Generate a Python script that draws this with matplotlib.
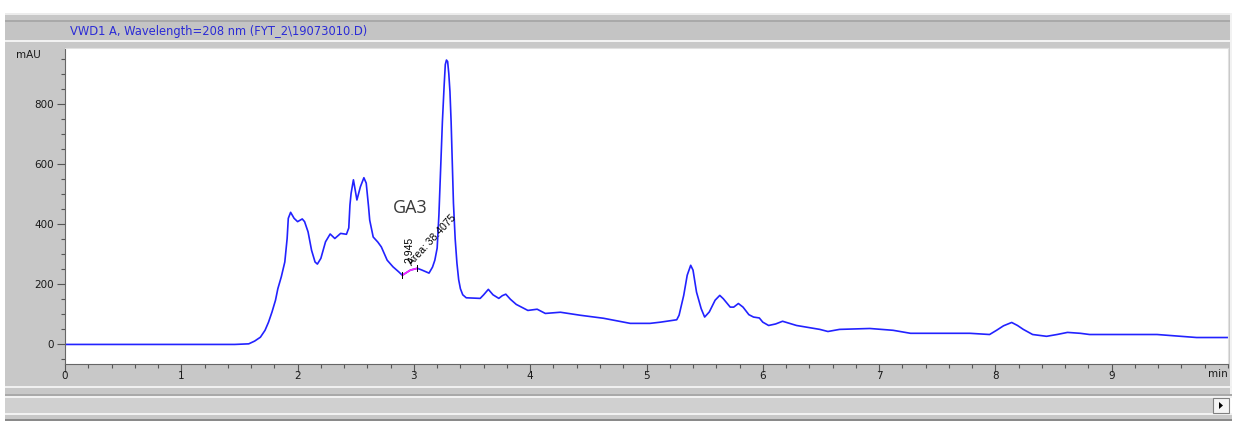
import matplotlib.pyplot as plt
from matplotlib.patches import Rectangle, Polygon
from matplotlib.ticker import MultipleLocator

# retention time (min) and detector signal (mAU)
time_min = [0.00, 1.46, 1.58, 1.63, 1.68, 1.72, 1.75, 1.78, 1.81, 1.83, 1.86, 1.89,
            1.91, 1.92, 1.94, 1.97, 2.00, 2.04, 2.06, 2.09, 2.12, 2.15, 2.17, 2.20,
            2.24, 2.28, 2.32, 2.37, 2.42, 2.44, 2.45, 2.46, 2.48, 2.51, 2.54, 2.57,
            2.59, 2.61, 2.62, 2.65, 2.69, 2.72, 2.77, 2.82, 2.87, 2.90, 2.97, 3.03,
            3.07, 3.13, 3.16, 3.18, 3.20, 3.215, 3.23, 3.245, 3.26, 3.27, 3.28, 3.29,
            3.30, 3.31, 3.32, 3.33, 3.34, 3.355, 3.37, 3.385, 3.40, 3.42, 3.45, 3.57,
            3.60, 3.64, 3.68, 3.73, 3.76, 3.79, 3.83, 3.88, 3.98, 4.06, 4.13, 4.26,
            4.43, 4.63, 4.86, 5.03, 5.12, 5.26, 5.28, 5.32, 5.35, 5.38, 5.40, 5.43,
            5.47, 5.50, 5.54, 5.59, 5.63, 5.66, 5.72, 5.75, 5.79, 5.83, 5.88, 5.92,
            5.97, 6.00, 6.05, 6.11, 6.17, 6.23, 6.29, 6.38, 6.49, 6.56, 6.66, 6.92,
            7.12, 7.27, 7.78, 7.95, 8.01, 8.07, 8.14, 8.19, 8.24, 8.32, 8.44, 8.53,
            8.62, 8.73, 8.81, 9.39, 9.73, 10.00]
signal_mau = [0, 0, 2, 11, 24, 47, 74, 108, 147, 185, 225, 274,
              352, 419, 439, 419, 408, 417, 408, 374, 313, 274, 267, 286,
              341, 367, 352, 369, 366, 387, 463, 502, 547, 480, 524, 554,
              536, 458, 413, 357, 340, 324, 280, 258, 241, 230, 247, 253,
              247, 237, 257, 280, 320, 430, 590, 740, 860, 930, 945, 940,
              900, 840, 740, 600, 470, 350, 270, 215, 185, 165, 155, 153,
              165, 183, 165, 153, 162, 167, 150, 133, 113, 117, 103, 107,
              97, 87, 70, 70, 74, 82, 97, 163, 230, 263, 247, 174,
              119, 91, 108, 147, 163, 152, 124, 124, 136, 124, 99, 91,
              88, 74, 63, 68, 77, 70, 63, 57, 50, 43, 50, 53,
              47, 37, 37, 33, 47, 62, 73, 63, 50, 33, 27, 33,
              40, 37, 33, 33, 23, 23]

# integrated GA3 peak
peak_rt = 2.945
peak_area = 38.4075
peak_start, peak_end = 2.90, 3.03

x_ticks = [0, 1, 2, 3, 4, 5, 6, 7, 8, 9]
y_ticks = [0, 200, 400, 600, 800]

title = "VWD1 A, Wavelength=208 nm (FYT_2\\19073010.D)"

W, H = 1235, 425
fig = plt.figure(figsize=(W / 100, H / 100), dpi=100)
fig.patch.set_facecolor('white')

# window chrome drawn in pixel units
bg = fig.add_axes([0, 0, 1, 1])
bg.set_xlim(0, W)
bg.set_ylim(H, 0)
bg.axis('off')
grey = '#c8c8c8'
bg.add_patch(Rectangle((5, 13), 1227, 383, color=grey, lw=0))
bg.add_patch(Rectangle((5, 13), 1227, 2, color='#ececec', lw=0))
bg.add_patch(Rectangle((5, 20), 1227, 2, color='#a9a9a9', lw=0))
bg.add_patch(Rectangle((5, 22), 1225, 18, color='#c4c4c4', lw=0))
bg.add_patch(Rectangle((5, 40), 1227, 2, color='#f2f2f2', lw=0))
bg.add_patch(Rectangle((1230, 13), 2, 383, color='#f2f2f2', lw=0))
bg.add_patch(Rectangle((5, 386), 1227, 2, color='#f0f0f0', lw=0))
bg.add_patch(Rectangle((5, 394), 1227, 2, color='#a9a9a9', lw=0))
bg.add_patch(Rectangle((5, 396), 1227, 2, color='#f2f2f2', lw=0))
bg.add_patch(Rectangle((5, 398), 1225, 15, color='#d0d0d0', lw=0))
bg.add_patch(Rectangle((5, 413), 1227, 2, color='#f2f2f2', lw=0))
bg.add_patch(Rectangle((5, 415), 1227, 4, color=grey, lw=0))
bg.add_patch(Rectangle((5, 419), 1227, 2, color='#8a8a8a', lw=0))
bg.add_patch(Rectangle((1213, 398), 16, 15, facecolor='#f4f4f4',
                       edgecolor='#808080', lw=0.8))
bg.add_patch(Polygon([[1219, 402], [1219, 409], [1223, 405.5]], color='black', lw=0))
bg.text(70, 31, title, color='#2b2bd6', fontsize=8.3, family='DejaVu Sans',
        va='center', ha='left')
bg.text(28, 55, 'mAU', color='#1a1a1a', fontsize=7.5, family='DejaVu Sans',
        va='center', ha='center')
bg.text(1218, 374, 'min', color='#1a1a1a', fontsize=7.5, family='DejaVu Sans',
        va='center', ha='center')

ax = fig.add_axes([65 / W, (H - 364) / H, (1228 - 65) / W, (364 - 48) / H])
ax.set_facecolor('white')
ax.plot(time_min, signal_mau, color='#2222ff', lw=1.2)

# integration segment of the GA3 peak
seg = [(t, v) for t, v in zip(time_min, signal_mau) if peak_start <= t <= peak_end]
ax.plot([p[0] for p in seg], [p[1] for p in seg], color='#ff22ff', lw=1.2)
for t, v in (seg[0], seg[-1]):
    ax.plot([t, t], [v - 10, v + 10], color='black', lw=0.7)

ax.text(peak_rt + 0.015, 272, f'{peak_rt:.3f}', rotation=90, fontsize=7.5,
        family='Liberation Sans', ha='center', va='bottom', color='black')
ax.text(3.0, 255, f'Area: {peak_area}', rotation=47, rotation_mode='anchor',
        fontsize=7.5, family='Liberation Sans', ha='left', va='bottom', color='black')
ax.text(2.97, 453, 'GA3', fontsize=13, family='Open Sans', color='#3a3a3a',
        ha='center', va='center')

ax.set_xlim(0, 10)
ax.set_ylim(-65, 985)
ax.set_xticks(x_ticks)
ax.set_yticks(y_ticks)
ax.xaxis.set_minor_locator(MultipleLocator(0.2))
ax.yaxis.set_minor_locator(MultipleLocator(50))
ax.tick_params(which='both', direction='out', colors='#555555', labelcolor='#1a1a1a',
               labelsize=7.5, width=0.8)
ax.tick_params(which='major', length=6, pad=2)
ax.tick_params(which='minor', length=3)
ax.tick_params(axis='x', which='major', pad=-1)
for lab in ax.get_xticklabels() + ax.get_yticklabels():
    lab.set_family('DejaVu Sans')
for side in ('top', 'right'):
    ax.spines[side].set_color('#e0e0e0')
for side in ('left', 'bottom'):
    ax.spines[side].set_color('#666666')
    ax.spines[side].set_linewidth(0.8)

fig.savefig('out.png', dpi=100, facecolor=fig.get_facecolor())
